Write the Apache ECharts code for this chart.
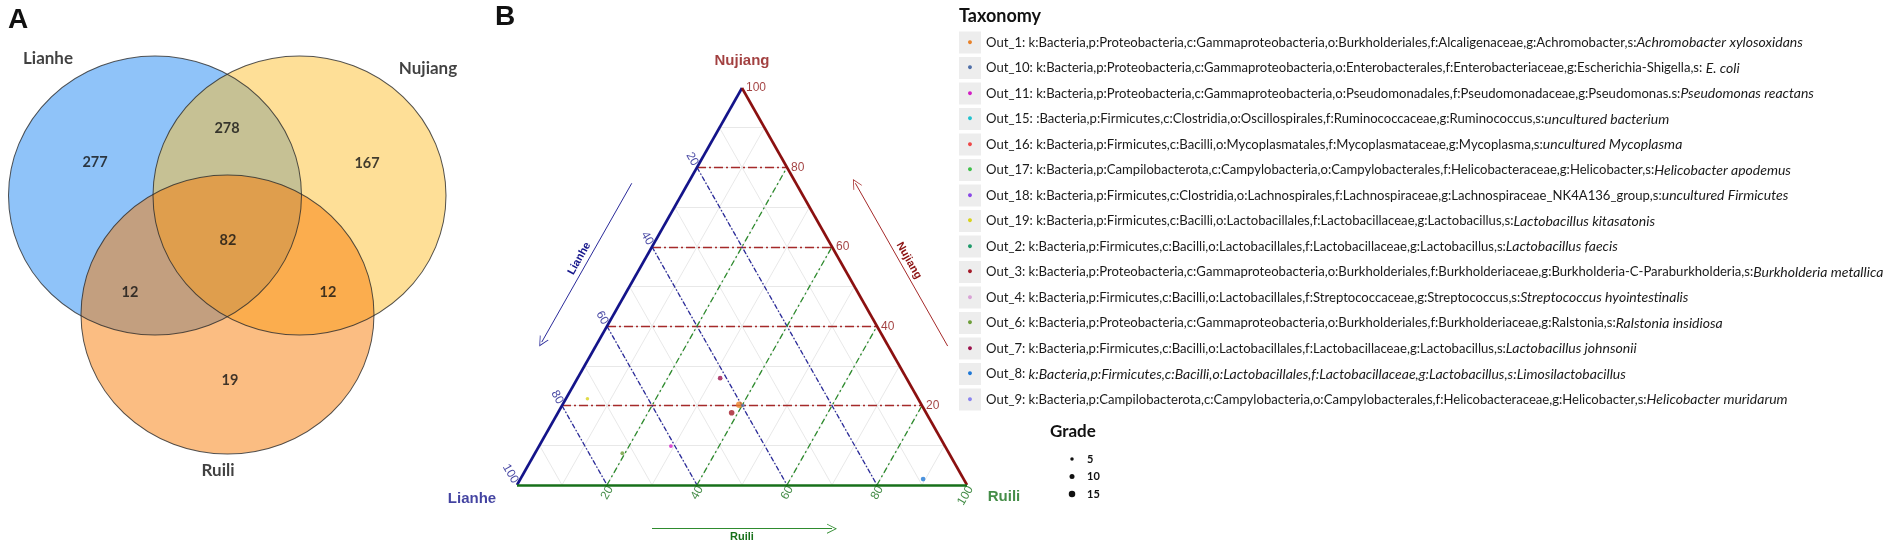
<!DOCTYPE html>
<html><head><meta charset="utf-8">
<script src="https://cdn.jsdelivr.net/npm/echarts@6/dist/echarts.min.js"></script>
<style>html,body{margin:0;padding:0;background:#fff}#c{width:1901px;height:548px}</style>
</head><body><div id="c"></div>
<script>
// ---------------- Venn data ----------------
const vennSets = ['Lianhe', 'Nujiang', 'Ruili'];
const vennColors = ['#1f87f3', '#fdbf2f', '#f77b05'];
const vennRegions = ['Lianhe only', 'Lianhe & Nujiang', 'Nujiang only', 'Lianhe & Ruili', 'All three', 'Nujiang & Ruili', 'Ruili only'];
const vennCounts = [277, 278, 167, 12, 82, 12, 19];

// ---------------- Ternary data ----------------
const ternaryAxes = ['Lianhe', 'Nujiang', 'Ruili'];
const majorTicks = [20, 40, 60, 80, 100];
const minorTicks = [10, 20, 30, 40, 50, 60, 70, 80, 90];
const gradeLevels = [5, 10, 15];

const otuNames = ['Out_1','Out_10','Out_11','Out_15','Out_16','Out_17','Out_18','Out_19','Out_2','Out_3','Out_4','Out_6','Out_7','Out_8','Out_9'];
const otuColors = ['#e8822a','#4f6fa8','#d21fc4','#22c3cf','#ee4848','#3fc04a','#8a48e6','#d8d21c','#1f9a6a','#a41a28','#d9a3d6','#6e9e3a','#9c124c','#1f78d6','#8a84f0'];
const otuTaxa = [
  'Out_1: k:Bacteria,p:Proteobacteria,c:Gammaproteobacteria,o:Burkholderiales,f:Alcaligenaceae,g:Achromobacter,s:',
  'Out_10: k:Bacteria,p:Proteobacteria,c:Gammaproteobacteria,o:Enterobacterales,f:Enterobacteriaceae,g:Escherichia-Shigella,s: ',
  'Out_11: k:Bacteria,p:Proteobacteria,c:Gammaproteobacteria,o:Pseudomonadales,f:Pseudomonadaceae,g:Pseudomonas.s:',
  'Out_15: :Bacteria,p:Firmicutes,c:Clostridia,o:Oscillospirales,f:Ruminococcaceae,g:Ruminococcus,s:',
  'Out_16: k:Bacteria,p:Firmicutes,c:Bacilli,o:Mycoplasmatales,f:Mycoplasmataceae,g:Mycoplasma,s:',
  'Out_17: k:Bacteria,p:Campilobacterota,c:Campylobacteria,o:Campylobacterales,f:Helicobacteraceae,g:Helicobacter,s:',
  'Out_18: k:Bacteria,p:Firmicutes,c:Clostridia,o:Lachnospirales,f:Lachnospiraceae,g:Lachnospiraceae_NK4A136_group,s:',
  'Out_19: k:Bacteria,p:Firmicutes,c:Bacilli,o:Lactobacillales,f:Lactobacillaceae,g:Lactobacillus,s:',
  'Out_2: k:Bacteria,p:Firmicutes,c:Bacilli,o:Lactobacillales,f:Lactobacillaceae,g:Lactobacillus,s:',
  'Out_3: k:Bacteria,p:Proteobacteria,c:Gammaproteobacteria,o:Burkholderiales,f:Burkholderiaceae,g:Burkholderia-C-Paraburkholderia,s:',
  'Out_4: k:Bacteria,p:Firmicutes,c:Bacilli,o:Lactobacillales,f:Streptococcaceae,g:Streptococcus,s:',
  'Out_6: k:Bacteria,p:Proteobacteria,c:Gammaproteobacteria,o:Burkholderiales,f:Burkholderiaceae,g:Ralstonia,s:',
  'Out_7: k:Bacteria,p:Firmicutes,c:Bacilli,o:Lactobacillales,f:Lactobacillaceae,g:Lactobacillus,s:',
  'Out_8: ',
  'Out_9: k:Bacteria,p:Campilobacterota,c:Campylobacteria,o:Campylobacterales,f:Helicobacteraceae,g:Helicobacter,s:'
];
const otuSpecies = [
  'Achromobacter xylosoxidans','E. coli','Pseudomonas reactans','uncultured bacterium','uncultured Mycoplasma',
  'Helicobacter apodemus','uncultured Firmicutes','Lactobacillus kitasatonis','Lactobacillus faecis','Burkholderia metallica',
  'Streptococcus hyointestinalis','Ralstonia insidiosa','Lactobacillus johnsonii',
  'k:Bacteria,p:Firmicutes,c:Bacilli,o:Lactobacillales,f:Lactobacillaceae,g:Lactobacillus,s:Limosilactobacillus',
  'Helicobacter muridarum'
];
// relative abundance (%) in Lianhe / Nujiang / Ruili ; null = not plotted
const otuLianhe  = [40.5, 39.8, 60.9, null, null, null, null, 73.5, null, 43.2, null, 72.6, 41.4,  9.0, null];
const otuNujiang = [20.2, 20.0,  9.8, null, null, null, null, 21.7, null, 18.2, null,  8.0, 26.9,  1.5, null];
const otuRuili   = [39.3, 40.2, 29.3, null, null, null, null,  4.8, null, 38.6, null, 19.4, 31.7, 89.5, null];
const otuGrade   = [15, 5, 6, null, null, null, null, 5, null, 12, null, 6, 9, 9, null];

// ---------------- helpers / layout ----------------
const T = (L, N, R) => [R + N / 2, N];           // ternary -> cartesian (x,y in 0..100)
const gradeSize = g => 2 + g * 0.3;
const vennCenters = [[155, 195.5], [299.5, 195.5], [227.5, 314.5]];
const vennSize = [293, 279];
const vennCountPos = [[95, 162], [227, 128], [367, 163], [130, 292], [228, 240], [328, 292], [230, 380]];
const vennSetPos = [[48, 59], [428, 69], [218, 471]];
const AX_COL = {Lianhe: '#14148a', Nujiang: '#8b1010', Ruili: '#17701a'};
const GRID_COL = {Lianhe: '#2b2b9a', Nujiang: '#a52a2a', Ruili: '#2e8b2e'};

const chart = echarts.init(document.getElementById('c'));

// grid lines
const minorLines = [];
minorTicks.forEach(k => {
  minorLines.push({coords: [T(100 - k, k, 0), T(0, k, 100 - k)]});
  minorLines.push({coords: [T(k, 100 - k, 0), T(k, 0, 100 - k)]});
  minorLines.push({coords: [T(100 - k, 0, k), T(0, 100 - k, k)]});
});
const inner = majorTicks.filter(k => k < 100);
const nujLines = inner.map(k => ({coords: [T(100 - k, k, 0), T(0, k, 100 - k)]}));
const lianLines = inner.map(k => ({coords: [T(k, 100 - k, 0), T(k, 0, 100 - k)]}));
const ruiLines = inner.map(k => ({coords: [T(100 - k, 0, k), T(0, 100 - k, k)]}));
const edges = [
  {coords: [T(100, 0, 0), T(0, 100, 0)], lineStyle: {color: AX_COL.Lianhe}},
  {coords: [T(0, 100, 0), T(0, 0, 100)], lineStyle: {color: AX_COL.Nujiang}},
  {coords: [T(100, 0, 0), T(0, 0, 100)], lineStyle: {color: AX_COL.Ruili}}
];
const chev = 'path://M0,0L6,10L5,10L0,1.8L-5,10L-6,10Z';
const arrowLines = [
  {coords: [[76 / 2 - 12.5, 76], [36 / 2 - 12.5, 36]], name: 'Lianhe',
   lineStyle: {color: GRID_COL.Lianhe}, label: {color: AX_COL.Lianhe, position: 'middle'}},
  {coords: [[100 - 35 / 2 + 13.2, 35], [100 - 76 / 2 + 13.2, 76]], name: 'Nujiang',
   lineStyle: {color: GRID_COL.Nujiang}, label: {color: AX_COL.Nujiang, position: 'middle'}},
  {coords: [[30, -11], [70, -11]], name: 'Ruili',
   lineStyle: {color: GRID_COL.Ruili}, label: {color: AX_COL.Ruili, position: 'insideMiddleBottom'}}
];

const lineBase = {type: 'lines', coordinateSystem: 'cartesian2d', xAxisIndex: 1, yAxisIndex: 1, silent: true, clip: false};
const series = [
  // Venn fills
  {type: 'scatter', xAxisIndex: 0, yAxisIndex: 0, silent: true, symbol: 'circle', symbolSize: vennSize,
   data: vennCenters.map((c, i) => ({value: c, itemStyle: {color: vennColors[i], opacity: 0.5}}))},
  {type: 'scatter', xAxisIndex: 0, yAxisIndex: 0, silent: true, symbol: 'circle', symbolSize: vennSize,
   itemStyle: {color: 'rgba(0,0,0,0)', borderColor: '#2a2a2a', borderWidth: 1}, data: vennCenters},
  {type: 'scatter', xAxisIndex: 0, yAxisIndex: 0, silent: true, symbolSize: 0,
   data: vennCountPos.map((p, i) => ({value: p, name: vennRegions[i]})),
   label: {show: true, position: 'inside', formatter: p => vennCounts[p.dataIndex],
     fontFamily: 'Lato', fontWeight: 'bold', fontSize: 14.5, color: '#111'}},
  {type: 'scatter', xAxisIndex: 0, yAxisIndex: 0, silent: true, symbolSize: 0,
   data: vennSetPos.map((p, i) => ({value: p, name: vennSets[i]})),
   label: {show: true, position: 'inside', formatter: p => p.name,
     fontFamily: 'Lato', fontWeight: 'bold', fontSize: 17, color: '#111'}},
  // Ternary grid
  Object.assign({}, lineBase, {data: minorLines, lineStyle: {color: '#e2e2e2', width: 0.8, opacity: 1}}),
  Object.assign({}, lineBase, {data: nujLines, lineStyle: {color: GRID_COL.Nujiang, width: 1.3, opacity: 1, type: [9, 3, 2, 3]}}),
  Object.assign({}, lineBase, {data: lianLines, lineStyle: {color: GRID_COL.Lianhe, width: 1.3, opacity: 1, type: [5, 2, 1.5, 2]}}),
  Object.assign({}, lineBase, {data: ruiLines, lineStyle: {color: GRID_COL.Ruili, width: 1.3, opacity: 1, type: [6, 3, 2, 3]}}),
  Object.assign({}, lineBase, {data: edges, lineStyle: {width: 2.6, opacity: 1}, z: 3}),
  Object.assign({}, lineBase, {data: arrowLines, symbol: ['none', chev], symbolSize: [9, 10],
    lineStyle: {width: 1, opacity: 1},
    label: {show: true, formatter: p => p.name, fontFamily: 'Liberation Sans', fontWeight: 'bold', fontSize: 11, distance: 3}}),
  // tick labels
  {type: 'scatter', xAxisIndex: 1, yAxisIndex: 1, silent: true, symbolSize: 0, clip: false,
   data: majorTicks.map(k => [...T(0, k, 100 - k), k]),
   label: {show: true, position: 'inside', align: 'left', verticalAlign: 'middle', offset: [4, 0],
     formatter: p => p.value[2], color: AX_COL.Nujiang, fontFamily: 'Liberation Sans', fontSize: 12}},
  {type: 'scatter', xAxisIndex: 1, yAxisIndex: 1, silent: true, symbolSize: 0, clip: false,
   data: majorTicks.map(k => [...T(k, 100 - k, 0), k]),
   label: {show: true, position: 'inside', align: 'right', verticalAlign: 'middle', rotate: -60, offset: [-3, 0],
     formatter: p => p.value[2], color: AX_COL.Lianhe, fontFamily: 'Liberation Sans', fontSize: 12}},
  {type: 'scatter', xAxisIndex: 1, yAxisIndex: 1, silent: true, symbolSize: 0, clip: false,
   data: majorTicks.map(k => [...T(100 - k, 0, k), k]),
   label: {show: true, position: 'inside', align: 'right', verticalAlign: 'middle', rotate: 60, offset: [0, 4],
     formatter: p => p.value[2], color: AX_COL.Ruili, fontFamily: 'Liberation Sans', fontSize: 12}},
  // vertex titles
  {type: 'scatter', xAxisIndex: 1, yAxisIndex: 1, silent: true, symbolSize: 0, clip: false,
   data: [
     {value: T(100, 0, 0), name: ternaryAxes[0], label: {color: AX_COL.Lianhe, offset: [-45, 14]}},
     {value: T(0, 100, 0), name: ternaryAxes[1], label: {color: AX_COL.Nujiang, offset: [0, -27]}},
     {value: T(0, 0, 100), name: ternaryAxes[2], label: {color: AX_COL.Ruili, offset: [37, 12]}}
   ],
   label: {show: true, position: 'inside', formatter: p => p.name, fontFamily: 'Liberation Sans', fontWeight: 'bold', fontSize: 15}}
];
// OTU points
otuNames.forEach((n, i) => {
  series.push({
    type: 'scatter', name: n, xAxisIndex: 1, yAxisIndex: 1, z: 10,
    data: otuGrade[i] == null ? [] : [[...T(otuLianhe[i], otuNujiang[i], otuRuili[i]), otuGrade[i]]],
    symbolSize: v => gradeSize(v[2]),
    itemStyle: {color: otuColors[i]}
  });
});

const rich = {
  t: {fontFamily: 'Lato', fontSize: 13.1, color: '#1a1a1a', padding: [0, 0, 0, 5], lineHeight: 22},
  i: {fontFamily: 'Lato', fontSize: 14, color: '#1a1a1a', fontStyle: 'italic', lineHeight: 22}
};
otuColors.forEach((c, i) => {
  rich['b' + i] = {backgroundColor: '#ededed', width: 22, height: 22, lineHeight: 22, align: 'center', color: c, fontSize: 9};
});

const gradeGraphics = [{type: 'text', left: 1050, top: 423, style: {text: 'Grade', font: 'bold 17px Lato', fill: '#111'}}];
gradeLevels.forEach((g, i) => {
  const y = 459 + i * 17.5;
  gradeGraphics.push({type: 'circle', shape: {cx: 1072, cy: y, r: gradeSize(g) / 2}, style: {fill: '#111'}});
  gradeGraphics.push({type: 'text', x: 1087, y: y, style: {text: String(g), font: 'bold 11px Lato', fill: '#111', verticalAlign: 'middle'}});
});

chart.setOption({
  backgroundColor: '#fff',
  animation: false,
  grid: [
    {left: 0, top: 0, width: 500, height: 548},
    {left: 517, top: 88, width: 450, height: 397}
  ],
  xAxis: [
    {gridIndex: 0, type: 'value', min: 0, max: 500, show: false},
    {gridIndex: 1, type: 'value', min: 0, max: 100, show: false}
  ],
  yAxis: [
    {gridIndex: 0, type: 'value', min: 0, max: 548, inverse: true, show: false},
    {gridIndex: 1, type: 'value', min: 0, max: 100, show: false}
  ],
  legend: {
    data: otuNames, orient: 'vertical', left: 948, top: 26.5, itemGap: 3.5,
    icon: 'rect', itemWidth: 1, itemHeight: 1, itemStyle: {opacity: 0}, selectedMode: false,
    formatter: name => {
      const i = otuNames.indexOf(name);
      return '{b' + i + '|\u25CF}{t|' + otuTaxa[i] + '}{i|' + otuSpecies[i] + '}';
    },
    textStyle: {rich: rich}
  },
  graphic: [
    {type: 'text', x: 18, y: 20, style: {text: 'A', font: 'bold 28px "Liberation Sans"', fill: '#111', align: 'center', verticalAlign: 'middle'}},
    {type: 'text', x: 505, y: 17, style: {text: 'B', font: 'bold 28px "Liberation Sans"', fill: '#111', align: 'center', verticalAlign: 'middle'}},
    {type: 'text', left: 959, top: 7, style: {text: 'Taxonomy', font: 'bold 18px Lato', fill: '#111'}}
  ].concat(gradeGraphics),
  series: series
});
</script></body></html>
